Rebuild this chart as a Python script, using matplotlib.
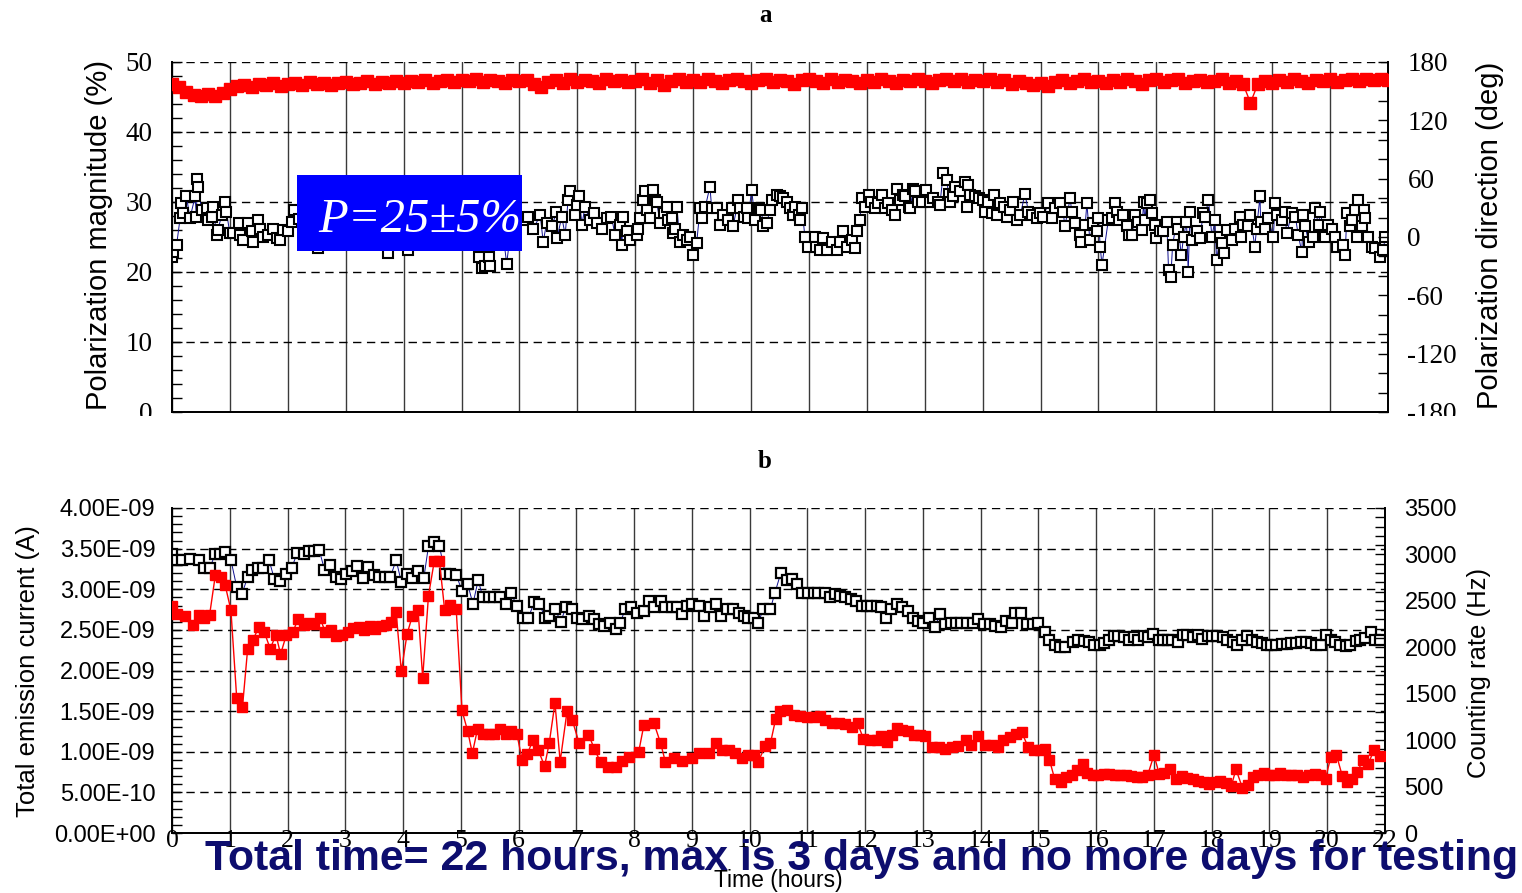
import numpy as np
import matplotlib
matplotlib.use("Agg")
import matplotlib.pyplot as plt
from matplotlib.ticker import MultipleLocator, FuncFormatter
from matplotlib.patches import Rectangle

plt.rcParams['font.family'] = ['Liberation Sans', 'DejaVu Sans']
plt.rcParams['axes.unicode_minus'] = False
SERIF = ['Liberation Serif', 'DejaVu Serif']

# ---------------- DATA ----------------
# x axis: 21 grid intervals, labelled as in the original figure
x_tick_labels = [str(i) for i in range(21)] + ['22']

# panel a: polarization magnitude (%) - open squares
pol_mag_t = [0.00,0.01,0.08,0.14,0.15,0.19,0.25,0.31,0.40,0.42,0.44,0.45,0.51,0.60,0.62,0.69,0.71,0.77,0.79,0.86,
             0.92,0.94,1.00,1.06,1.15,1.17,1.23,1.32,1.38,1.40,1.49,1.52,1.58,1.66,1.75,1.81,1.87,1.92,2.01,2.07,
             2.10,2.20,2.30,2.40,2.52,2.60,2.70,2.80,2.90,3.00,3.10,3.20,3.30,3.40,3.50,3.60,3.73,3.80,3.90,4.00,
             4.08,4.20,4.30,4.40,4.50,4.60,4.70,4.80,4.90,5.00,5.10,5.20,5.30,5.35,5.40,5.47,5.50,5.60,5.70,5.78,
             5.85,5.95,6.07,6.15,6.24,6.36,6.41,6.47,6.56,6.64,6.65,6.73,6.79,6.84,6.87,6.96,6.99,7.03,7.08,7.13,
             7.22,7.28,7.34,7.42,7.51,7.59,7.65,7.74,7.77,7.79,7.85,7.91,8.03,8.05,8.08,8.14,8.17,8.20,8.26,8.31,
             8.34,8.37,8.43,8.49,8.54,8.57,8.63,8.66,8.69,8.72,8.77,8.83,8.89,8.95,9.00,9.06,9.12,9.15,9.21,9.29,
             9.32,9.41,9.46,9.52,9.61,9.67,9.69,9.78,9.81,9.87,9.93,9.95,10.01,10.07,10.13,10.18,10.21,10.27,10.33,10.37,
             10.44,10.50,10.56,10.62,10.67,10.73,10.76,10.82,10.85,10.88,10.93,10.99,11.11,11.13,11.19,11.25,11.31,11.39,11.48,11.54,
             11.59,11.65,11.74,11.80,11.83,11.88,11.91,11.97,12.03,12.08,12.14,12.20,12.26,12.31,12.37,12.43,12.49,12.52,12.57,12.63,
             12.66,12.72,12.75,12.80,12.83,12.89,12.95,13.01,13.03,13.09,13.15,13.23,13.26,13.32,13.38,13.41,13.44,13.49,13.52,13.61,
             13.70,13.73,13.75,13.78,13.87,13.93,14.01,14.04,14.10,14.16,14.19,14.24,14.30,14.36,14.42,14.47,14.53,14.59,14.65,14.73,
             14.79,14.85,14.93,14.99,15.05,15.13,15.19,15.25,15.34,15.39,15.42,15.51,15.54,15.60,15.68,15.69,15.77,15.80,15.85,15.91,
             15.97,16.00,16.03,16.06,16.17,16.23,16.29,16.32,16.35,16.43,16.49,16.52,16.58,16.63,16.69,16.75,16.78,16.80,16.83,16.89,
             16.92,16.98,16.99,17.07,17.12,17.18,17.21,17.25,17.28,17.35,17.38,17.43,17.47,17.52,17.55,17.58,17.61,17.70,17.75,17.81,
             17.84,17.90,17.96,18.01,18.04,18.10,18.13,18.16,18.22,18.30,18.36,18.45,18.46,18.50,18.59,18.62,18.70,18.73,18.79,18.80,
             18.88,18.93,19.02,19.05,19.08,19.17,19.22,19.25,19.34,19.40,19.45,19.51,19.54,19.57,19.63,19.71,19.74,19.80,19.83,19.91,
             19.97,20.03,20.09,20.12,20.23,20.26,20.29,20.35,20.38,20.43,20.46,20.49,20.55,20.58,20.60,20.66,20.72,20.78,20.86,20.92,
             20.95]
pol_mag = [22.2,22.9,23.9,27.7,29.9,28.4,30.8,27.7,30.8,27.9,33.3,32.2,28.9,29.1,27.4,27.9,29.3,25.3,26.0,28.1,
           30.0,28.6,25.5,25.5,27.0,25.3,24.6,27.0,25.8,24.3,27.4,26.2,25.0,25.3,26.2,24.8,24.6,26.0,25.8,27.2,
           28.9,27.5,26.0,28.0,23.4,26.5,27.8,25.9,27.0,28.2,26.4,27.1,25.8,27.6,26.3,27.9,22.7,26.1,27.3,25.6,
           23.1,26.8,27.7,26.0,28.3,27.1,26.2,28.5,27.3,26.6,25.4,24.8,22.2,20.6,20.8,22.2,20.8,25.0,26.5,21.2,
           26.0,27.5,27.4,27.9,26.2,28.1,24.3,27.0,26.5,28.6,24.8,27.9,25.3,30.3,31.5,28.1,29.6,30.8,26.7,29.3,
           27.4,28.4,27.0,26.2,27.7,27.9,25.3,26.7,23.9,27.9,25.8,24.6,25.3,26.2,27.7,30.3,31.5,28.9,27.7,31.7,
           30.3,30.0,27.0,28.4,29.3,27.4,27.7,25.5,26.2,29.3,24.3,25.3,24.6,25.0,22.4,24.1,29.1,27.7,29.3,32.2,
           29.1,29.1,26.7,28.1,27.4,29.1,26.5,30.3,29.1,27.9,29.1,27.7,31.7,27.4,29.1,28.9,26.5,27.0,28.9,30.3,
           31.0,30.8,30.5,30.0,29.1,28.1,29.3,28.1,27.4,29.1,25.0,23.6,25.0,23.6,23.1,24.8,23.1,24.3,23.1,24.3,
           25.8,23.6,24.6,23.4,25.8,27.4,30.5,29.3,31.0,30.0,29.1,29.8,31.0,29.1,29.8,28.9,28.1,31.9,30.3,31.0,
           30.8,29.3,29.1,31.9,31.5,30.0,30.0,31.5,31.7,30.0,30.5,30.0,29.6,34.1,33.1,31.2,30.0,30.8,32.2,31.5,
           32.9,29.3,32.4,31.0,30.8,30.5,30.3,28.6,30.0,28.4,31.0,28.1,29.8,29.3,27.9,28.9,30.0,27.4,28.1,31.2,
           28.6,28.1,27.7,28.4,27.9,29.8,27.7,29.1,29.8,28.6,26.5,30.5,28.6,27.0,25.3,24.3,26.7,29.8,24.6,27.0,
           25.8,27.7,23.6,21.0,27.4,27.7,29.8,28.6,27.4,28.1,26.5,25.3,25.3,28.1,27.2,26.0,30.0,27.4,29.8,30.3,
           28.4,26.7,24.8,25.8,25.8,27.2,20.3,19.3,23.9,27.2,26.2,22.4,25.0,27.2,20.0,28.6,24.6,25.8,24.8,28.4,
           27.9,30.3,25.0,27.4,21.7,25.0,24.1,22.7,26.0,24.6,26.2,27.9,25.0,26.7,26.5,28.1,23.6,26.2,30.8,27.2,
           26.2,27.7,25.0,29.8,28.1,27.4,28.6,25.5,28.4,27.9,25.3,22.9,28.1,26.5,24.3,25.0,29.1,26.7,28.6,25.0,
           26.7,26.2,25.0,23.6,23.9,22.4,28.4,26.5,27.4,28.9,25.0,30.3,26.5,28.9,27.7,25.0,23.6,23.4,22.2,23.1,
           25.0]

# panel a: polarization direction (deg) - filled red squares, 8 readings per grid interval
pol_dir_t = [i / 8 for i in range(169)]
pol_dir = [157,154,149,146,145,147,145,148,
           152,155,156,154,157,156,158,155,
           157,158,156,159,157,158,156,158,
           159,157,158,160,157,159,158,160,
           158,160,159,161,158,160,161,159,
           161,160,162,159,161,160,158,161,
           160,161,157,154,159,161,158,162,
           159,161,160,158,162,160,161,159,
           160,163,158,161,156,160,162,159,
           161,159,162,160,158,161,163,160,
           158,161,162,159,161,160,157,161,
           163,160,158,162,159,161,160,158,
           161,159,162,160,158,161,160,162,
           160,158,161,163,160,162,159,161,
           160,162,159,161,157,160,158,156,
           158,155,159,161,158,160,162,159,
           160,158,161,159,162,160,157,161,
           162,159,161,163,158,160,161,159,
           160,162,158,160,157,138,157,160,
           158,161,159,162,160,158,161,160,
           162,159,161,163,160,162,161,163,
           161]

# panel b: total emission current (units of 1e-9 A) - open squares
current_t = [0.00,0.08,0.18,0.32,0.46,0.56,0.65,0.75,0.83,0.92,1.02,1.12,1.21,1.31,1.39,1.49,1.58,1.68,1.77,1.87,
             1.97,2.07,2.17,2.28,2.38,2.46,2.55,2.64,2.74,2.84,2.92,3.02,3.12,3.21,3.30,3.40,3.50,3.58,3.68,3.78,
             3.88,3.97,4.06,4.16,4.26,4.36,4.44,4.54,4.63,4.73,4.82,4.92,5.02,5.12,5.21,5.30,5.38,5.48,5.58,5.68,
             5.78,5.87,5.97,6.07,6.17,6.27,6.36,6.46,6.53,6.63,6.73,6.82,6.93,7.02,7.10,7.22,7.31,7.39,7.48,7.59,
             7.68,7.76,7.85,7.94,8.05,8.17,8.26,8.34,8.46,8.54,8.66,8.75,8.83,8.92,9.01,9.12,9.21,9.32,9.41,9.51,
             9.61,9.72,9.81,9.90,9.98,10.07,10.15,10.24,10.36,10.44,10.54,10.65,10.73,10.82,10.90,11.01,11.11,11.19,11.31,11.39,
             11.48,11.57,11.65,11.76,11.85,11.94,12.03,12.11,12.20,12.27,12.36,12.45,12.55,12.63,12.74,12.82,12.91,13.01,13.10,13.21,
             13.29,13.38,13.48,13.58,13.66,13.77,13.86,13.96,14.06,14.16,14.25,14.36,14.44,14.54,14.60,14.70,14.80,14.90,15.00,15.12,
             15.19,15.28,15.37,15.46,15.60,15.68,15.79,15.87,15.97,16.06,16.13,16.22,16.30,16.38,16.48,16.56,16.65,16.73,16.82,16.90,
             16.99,17.08,17.16,17.25,17.32,17.41,17.50,17.58,17.67,17.76,17.84,17.93,18.01,18.10,18.19,18.27,18.36,18.44,18.52,18.61,
             18.69,18.78,18.87,18.95,19.03,19.12,19.21,19.30,19.38,19.46,19.55,19.64,19.72,19.81,19.90,19.98,20.06,20.14,20.22,20.32,
             20.40,20.49,20.57,20.66,20.75,20.83,20.92]
current_nA = [3.43,3.36,3.36,3.37,3.36,3.26,3.26,3.43,3.43,3.46,3.36,3.03,2.94,3.15,3.24,3.26,3.26,3.36,3.13,3.10,
              3.19,3.26,3.45,3.44,3.47,3.47,3.48,3.24,3.30,3.15,3.13,3.19,3.22,3.29,3.14,3.28,3.17,3.15,3.15,3.15,
              3.36,3.09,3.19,3.14,3.22,3.14,3.53,3.58,3.53,3.19,3.19,3.18,2.98,3.06,2.82,3.11,2.91,2.91,2.90,2.91,
              2.82,2.96,2.79,2.65,2.65,2.84,2.82,2.65,2.67,2.76,2.60,2.78,2.76,2.65,2.63,2.67,2.63,2.57,2.55,2.59,
              2.51,2.59,2.76,2.78,2.71,2.73,2.86,2.78,2.86,2.78,2.78,2.78,2.69,2.80,2.82,2.80,2.67,2.78,2.82,2.67,
              2.76,2.76,2.71,2.67,2.65,2.65,2.59,2.76,2.76,2.96,3.20,3.12,3.13,3.07,2.95,2.95,2.95,2.95,2.95,2.90,
              2.94,2.92,2.90,2.88,2.86,2.80,2.80,2.80,2.80,2.78,2.65,2.76,2.82,2.78,2.73,2.65,2.61,2.59,2.65,2.53,
              2.69,2.57,2.59,2.59,2.59,2.59,2.59,2.63,2.57,2.57,2.55,2.53,2.61,2.59,2.71,2.71,2.57,2.57,2.58,2.47,
              2.37,2.31,2.29,2.29,2.35,2.37,2.36,2.35,2.32,2.31,2.34,2.37,2.42,2.42,2.41,2.38,2.41,2.37,2.42,2.41,
              2.45,2.38,2.38,2.37,2.38,2.35,2.44,2.44,2.41,2.44,2.39,2.42,2.42,2.42,2.41,2.38,2.35,2.31,2.37,2.42,
              2.38,2.35,2.34,2.32,2.32,2.32,2.33,2.33,2.34,2.34,2.35,2.35,2.34,2.32,2.32,2.44,2.38,2.35,2.32,2.30,
              2.32,2.36,2.37,2.40,2.48,2.38,2.37]

# panel b: counting rate (Hz) - filled red squares
rate_t = [0.00,0.09,0.23,0.36,0.46,0.56,0.65,0.75,0.84,0.92,1.02,1.12,1.22,1.31,1.40,1.50,1.60,1.70,1.80,1.88,
          1.98,2.09,2.18,2.28,2.38,2.46,2.56,2.65,2.75,2.84,2.94,3.04,3.14,3.23,3.32,3.42,3.52,3.61,3.70,3.80,
          3.88,3.97,4.07,4.16,4.26,4.34,4.44,4.54,4.63,4.72,4.82,4.92,5.02,5.12,5.20,5.29,5.38,5.48,5.58,5.68,
          5.78,5.87,5.97,6.06,6.15,6.25,6.34,6.45,6.53,6.63,6.72,6.84,6.93,7.05,7.21,7.31,7.42,7.54,7.68,7.79,
          7.91,8.08,8.17,8.34,8.46,8.54,8.69,8.83,9.01,9.12,9.29,9.41,9.52,9.64,9.75,9.87,9.98,10.07,10.15,10.27,
          10.36,10.45,10.53,10.65,10.76,10.88,10.99,11.11,11.22,11.31,11.42,11.54,11.65,11.77,11.87,11.97,12.09,12.20,12.27,12.37,
          12.46,12.55,12.63,12.74,12.84,12.95,13.04,13.15,13.27,13.38,13.50,13.61,13.74,13.84,13.96,14.07,14.19,14.30,14.39,14.50,
          14.62,14.71,14.82,14.93,15.02,15.11,15.19,15.28,15.39,15.48,15.58,15.67,15.77,15.84,15.94,16.03,16.13,16.23,16.32,16.42,
          16.51,16.61,16.71,16.79,16.89,17.00,17.09,17.18,17.28,17.38,17.48,17.57,17.67,17.76,17.86,17.96,18.05,18.15,18.24,18.34,
          18.42,18.53,18.62,18.71,18.80,18.91,19.00,19.09,19.19,19.28,19.38,19.48,19.58,19.68,19.78,19.87,19.97,20.06,20.16,20.26,
          20.34,20.43,20.52,20.62,20.71,20.81,20.92]
rate_hz = [2450,2355,2335,2240,2345,2320,2345,2775,2755,2670,2400,1455,1355,1985,2075,2215,2160,1985,2135,1925,
           2135,2160,2300,2240,2260,2250,2320,2170,2190,2120,2135,2170,2205,2215,2190,2225,2195,2225,2240,2275,
           2380,1740,2145,2335,2405,1670,2555,2925,2925,2405,2460,2415,1320,1095,860,1120,1070,1070,1070,1120,
           1070,1095,1070,790,850,1000,895,720,965,1400,770,1315,1215,965,1060,910,760,710,710,780,
           815,875,1165,1190,965,770,805,780,805,860,865,970,895,895,865,805,840,840,770,935,
           965,1225,1315,1330,1270,1260,1250,1250,1260,1215,1180,1180,1175,1145,1180,1015,1005,1005,1040,980,
           1060,1130,1110,1095,1060,1060,1040,930,930,910,930,935,1000,945,1040,945,945,930,1000,1035,
           1070,1085,930,895,895,910,790,585,550,605,620,675,745,650,620,620,640,640,630,630,
           620,615,605,605,620,840,640,650,690,580,615,595,580,560,550,525,550,560,535,510,
           685,490,515,605,630,650,630,630,650,630,620,620,605,630,640,620,585,815,840,615,
           545,585,655,790,745,895,825]

# ---------------- FIGURE ----------------
W, H = 1522, 893
fig = plt.figure(figsize=(W / 100, H / 100), dpi=100)


def frame(x0, y0, x1, y1):
    return [x0 / W, 1 - y1 / H, (x1 - x0) / W, (y1 - y0) / H]


GRID_V = dict(color='#3a3a3a', lw=1.0, ls='-')
GRID_H = dict(color='black', lw=1.0, ls=(0, (6, 4)))


def style_axes(ax, axr):
    ax.set_xlim(0, 21)
    ax.set_xticks(np.arange(0, 22))
    ax.set_axisbelow(True)
    ax.grid(axis='x', **GRID_V)
    ax.grid(axis='y', **GRID_H)
    for a in (ax, axr):
        a.spines['top'].set_visible(False)
        a.spines['left'].set_linewidth(1.3)
        a.spines['right'].set_linewidth(1.3)
        a.spines['bottom'].set_linewidth(1.3)
    ax.tick_params(axis='x', length=0)
    ax.tick_params(axis='y', which='both', direction='in', length=7, width=1, right=False)
    axr.tick_params(axis='y', which='both', direction='in', length=7, width=1)


# ---- panel a ----
ax1 = fig.add_axes(frame(172, 62, 1388, 412))
ax1r = ax1.twinx()
style_axes(ax1, ax1r)
ax1.set_ylim(0, 50)
ax1.yaxis.set_major_locator(MultipleLocator(10))
ax1.yaxis.set_minor_locator(MultipleLocator(2))
ax1r.set_ylim(-180, 180)
ax1r.yaxis.set_major_locator(MultipleLocator(60))
ax1r.yaxis.set_minor_locator(MultipleLocator(20))
ax1.tick_params(axis='x', labelbottom=False)
ax1.tick_params(axis='y', pad=14, labelsize=19.5)
ax1r.tick_params(axis='y', pad=14, labelsize=19.5)
for lab in ax1.get_yticklabels() + ax1r.get_yticklabels():
    lab.set_family(SERIF)

ax1.plot(pol_mag_t, pol_mag, color='#101090', lw=0.7, zorder=2)
ax1.plot(pol_mag_t, pol_mag, ls='none', marker='s', ms=6.6, mfc='white', mec='black', mew=1.5, zorder=3)
ax1r.plot(pol_dir_t, pol_dir, color='red', lw=1.0, marker='s', ms=8.6, mfc='red', mec='red', zorder=3)

fig.text(99 / W, 1 - 235 / H, 'Polarization magnitude (%)', rotation=90, ha='center', va='center', fontsize=21)
fig.text(1490 / W, 1 - 235 / H, 'Polarization direction (deg)', rotation=90, ha='center', va='center', fontsize=21)

# ---- panel b ----
ax2 = fig.add_axes(frame(172, 508, 1385, 833))
ax2r = ax2.twinx()
style_axes(ax2, ax2r)
ax2.set_ylim(0, 4e-9)
ax2.yaxis.set_major_locator(MultipleLocator(0.5e-9))
ax2.yaxis.set_minor_locator(MultipleLocator(1e-10))
ax2.yaxis.set_major_formatter(FuncFormatter(lambda v, p: f"{v:.2E}"))
ax2r.set_ylim(0, 3500)
ax2r.yaxis.set_major_locator(MultipleLocator(500))
ax2r.yaxis.set_minor_locator(MultipleLocator(100))
ax2.set_xticklabels(x_tick_labels, family=SERIF, fontsize=18.5)
ax2.tick_params(axis='x', pad=-2)
ax2.tick_params(axis='y', pad=12, labelsize=17)
ax2r.tick_params(axis='y', pad=14, labelsize=17)

ax2.plot(current_t, np.array(current_nA) * 1e-9, color='#101090', lw=0.7, zorder=2)
ax2.plot(current_t, np.array(current_nA) * 1e-9, ls='none', marker='s', ms=7.4, mfc='white',
         mec='black', mew=1.6, zorder=3)
ax2r.plot(rate_t, rate_hz, color='red', lw=1.0, marker='s', ms=7.8, mfc='red', mec='red', zorder=3)

fig.text(28 / W, 1 - 671 / H, 'Total emission current (A)', rotation=90, ha='center', va='center', fontsize=18.5)
fig.text(1479 / W, 1 - 673 / H, 'Counting rate (Hz)', rotation=90, ha='center', va='center', fontsize=18.5)

# panel titles
fig.text(765 / W, 1 - 15 / H, 'a', ha='center', va='center', fontsize=18, fontweight='bold', family=SERIF)
fig.text(765 / W, 1 - 461 / H, 'b', ha='center', va='center', fontsize=18, fontweight='bold', family=SERIF)

# white strip that cuts the lowest tick labels of panel a (as in the original)
fig.add_artist(Rectangle((0, 1 - 445 / H), 1, (445 - 416) / H, transform=fig.transFigure,
                         facecolor='white', edgecolor='none', zorder=4))

# blue annotation box
fig.add_artist(Rectangle((297 / W, 1 - 251 / H), (522 - 297) / W, (251 - 175) / H,
                         transform=fig.transFigure, facecolor='#0000ff', edgecolor='none', zorder=6))
fig.text(318 / W, 1 - 232 / H, 'P=25\u00b15%', color='white', fontsize=35, style='italic',
         family=SERIF, ha='left', va='baseline', zorder=7)

# x-axis title and overlay caption
fig.text(778 / W, 1 - 887 / H, 'Time (hours)', ha='center', va='baseline', fontsize=16.5, zorder=6)
fig.text(205 / W, 1 - 870 / H, 'Total time= 22 hours, max is 3 days and no more days for testing',
         color='#0d0d6e', fontsize=30.8, fontweight='bold', ha='left', va='baseline', zorder=7)

fig.savefig('out.png', dpi=100)
